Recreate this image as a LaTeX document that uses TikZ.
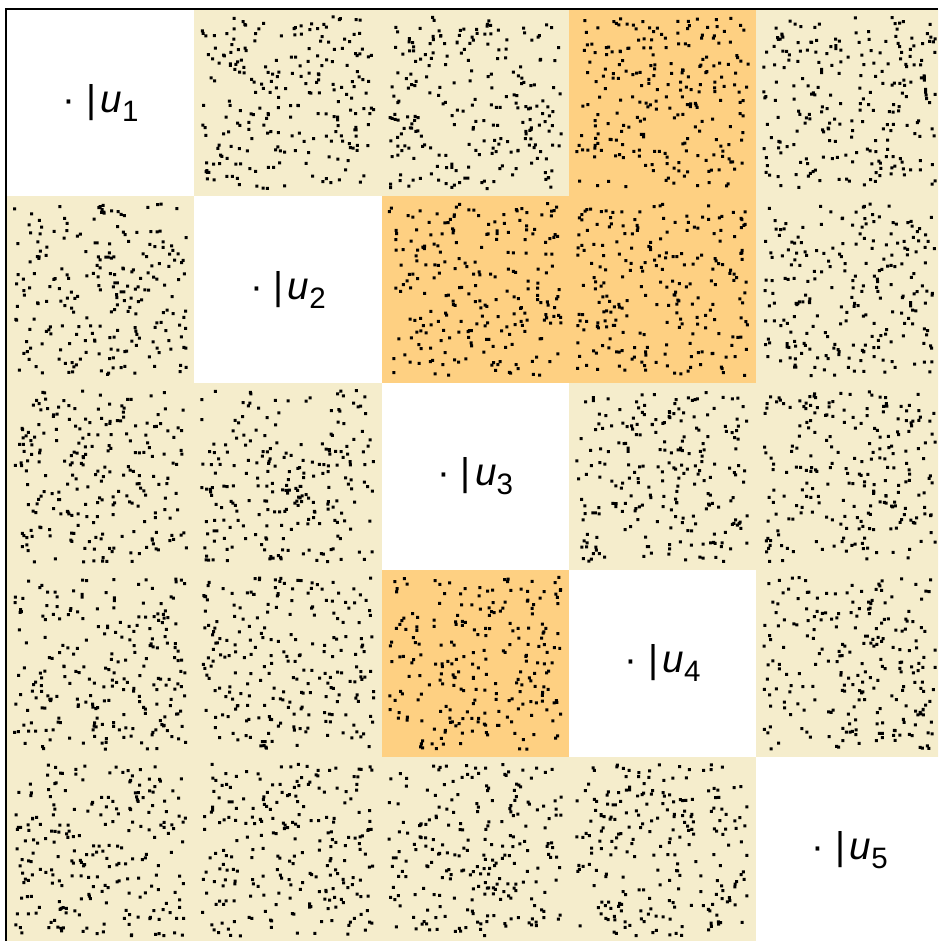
\documentclass[tikz,border=0pt]{standalone}
\usepackage{fontspec}
\setmainfont{Liberation Sans}
\usepackage{tikz}
\usetikzlibrary{calc}
\definecolor{cellbeige}{RGB}{245,237,204}
\definecolor{cellorange}{RGB}{254,208,130}

\newcommand{\blocklabel}[1]{%
  ·\ |\kern1.2pt\textit{u}\raisebox{-2.6pt}{\fontsize{8.4}{10}\selectfont #1}}

\begin{document}
\begin{tikzpicture}[
  pale/.style  = {fill=cellbeige},
  hot/.style   = {fill=cellorange},
  speck/.style = {fill=black},
  lbl/.style   = {inner sep=0pt, font=\fontsize{11}{13}\selectfont},
  spine/.style = {draw=black, line width=0.6pt},
]
  \useasboundingbox (0,0) rectangle (9.38,9.41);
  \begin{scope}
    \clip (0,0) rectangle (9.38,9.41);
    % off-diagonal blocks
    \foreach \r in {1,...,5}{
      \foreach \c in {1,...,5}{
        \pgfmathsetmacro{\cx}{0.07+(\c-1)*1.873}
        \pgfmathsetmacro{\cy}{9.315-\r*1.868}
        \ifnum\r=\c\else
          \fill[pale] (\cx,\cy) rectangle ++(1.873,1.868);
        \fi
      }
    }
    \foreach \r/\c in {1/4, 2/3, 2/4, 4/3}{
      \pgfmathsetmacro{\cx}{0.07+(\c-1)*1.873}
      \pgfmathsetmacro{\cy}{9.315-\r*1.868}
      \fill[hot] (\cx,\cy) rectangle ++(1.873,1.868);
    }
    % random entries
    \pgfmathsetseed{4711}
    \foreach \r in {1,...,5}{
      \foreach \c in {1,...,5}{
        \pgfmathsetmacro{\cx}{0.07+(\c-1)*1.873}
        \pgfmathsetmacro{\cy}{9.315-\r*1.868}
        \ifnum\r=\c\else
          \fill[speck] \foreach \k in {1,...,230}{
            ({\cx+0.06+rnd*1.72},{\cy+0.06+rnd*1.72}) rectangle ++(0.03,0.03)
          };
        \fi
      }
    }
  \end{scope}
  % diagonal labels
  \foreach \i in {1,...,5}{
    \pgfmathsetmacro{\cx}{0.07+(\i-0.5)*1.873}
    \pgfmathsetmacro{\cy}{9.315-(\i-0.5)*1.868}
    \node[lbl] (u\i) at (\cx,\cy) {\blocklabel{\i}};
  }
  \draw[spine] (0.06,0) -- (0.06,9.32) -- (9.38,9.32);
\end{tikzpicture}
\end{document}
